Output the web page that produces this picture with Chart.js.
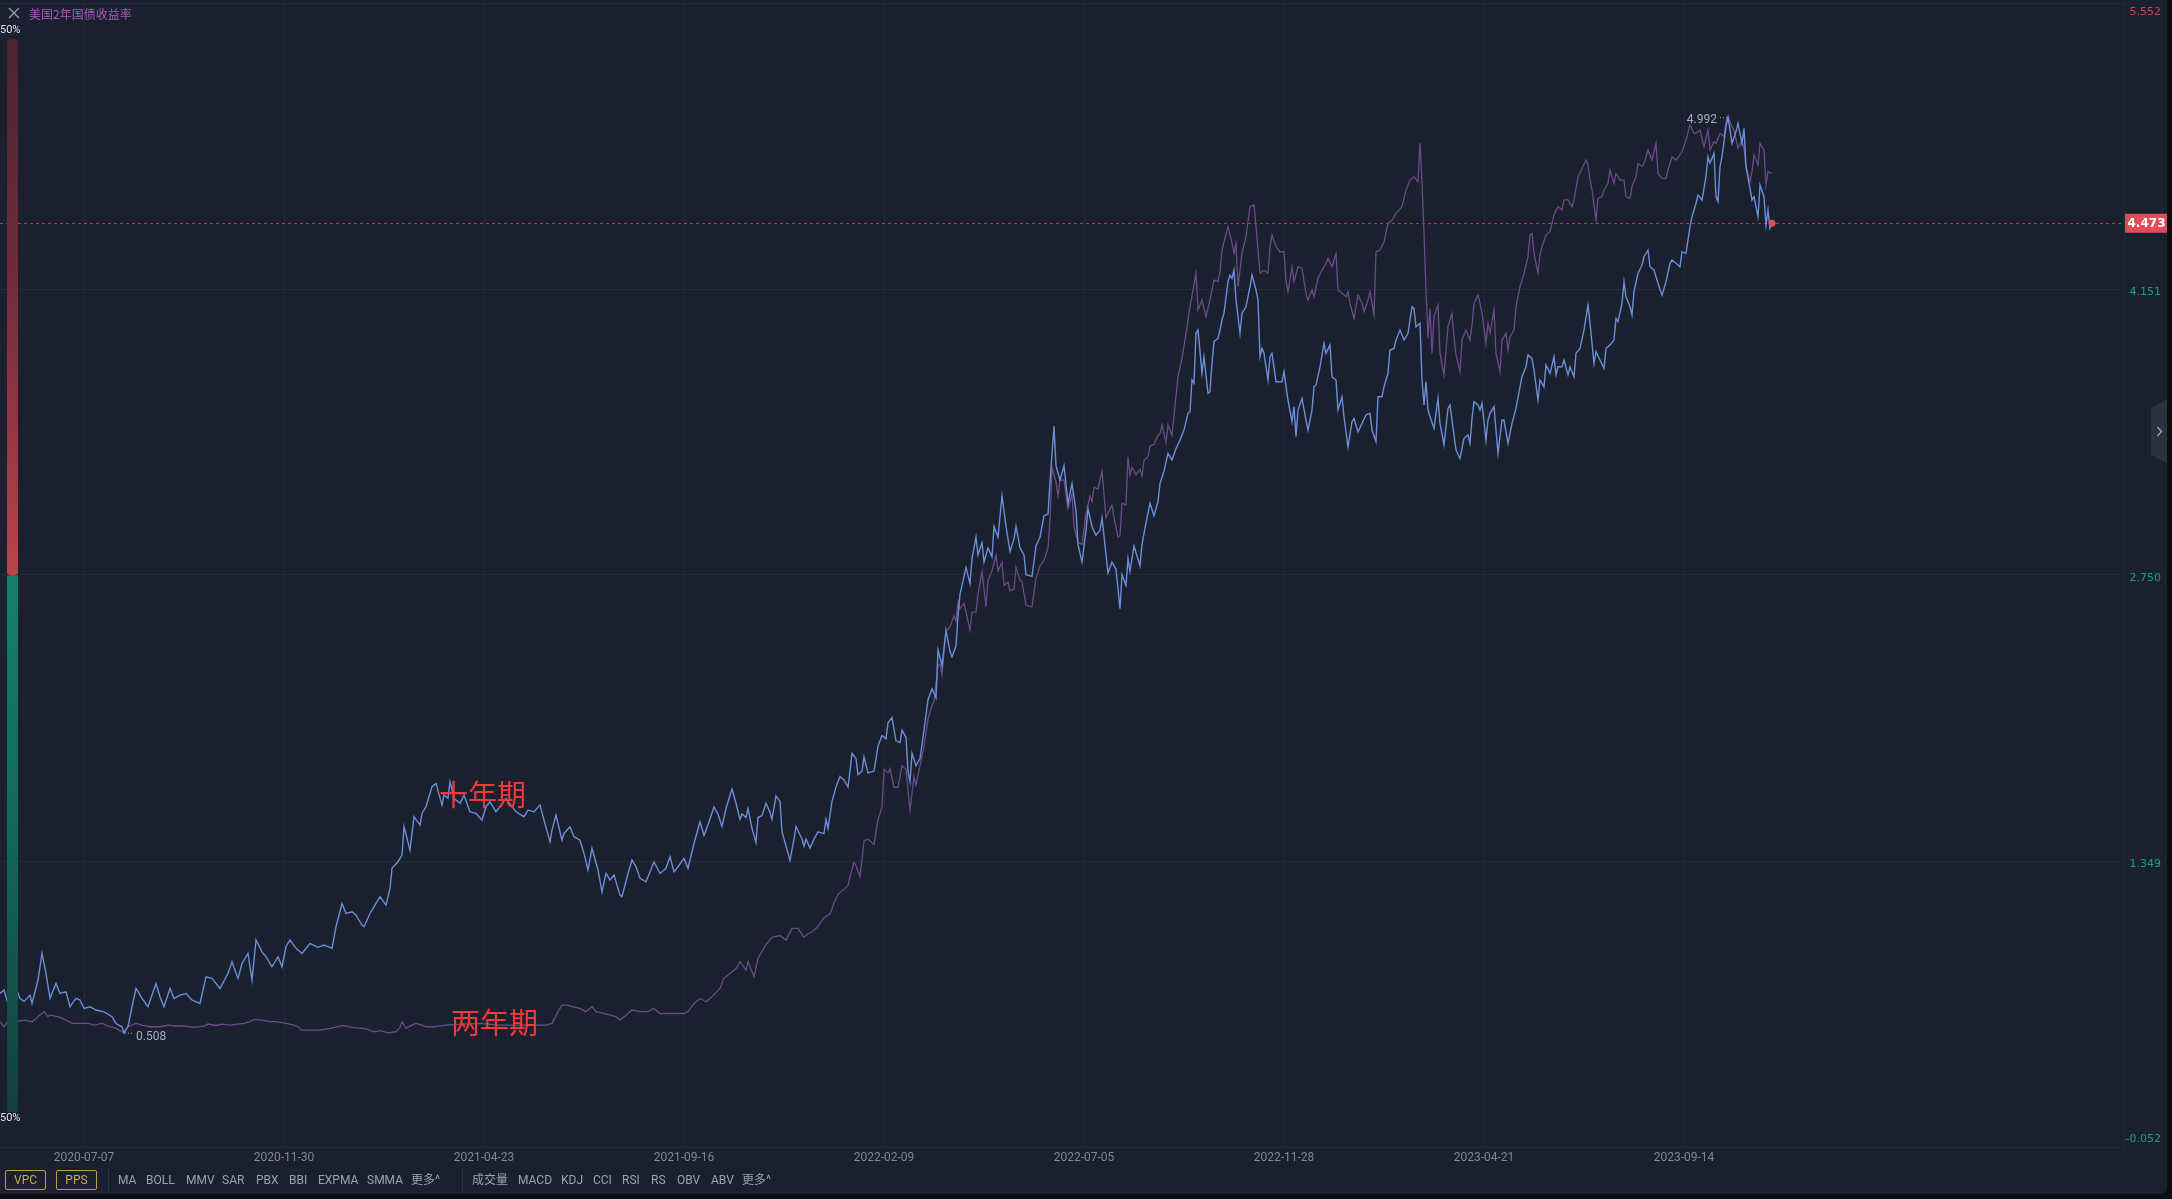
<!DOCTYPE html>
<html lang="zh-CN">
<head>
<meta charset="utf-8">
<title>美国2年国债收益率</title>
<script src="https://cdn.jsdelivr.net/npm/chart.js@4.4.1/dist/chart.umd.min.js"></script>
<style>
    html, body { margin: 0; padding: 0; width: 2172px; height: 1199px; overflow: hidden; background: #0b0d11; }
    #panel { position: absolute; left: 0; top: 0; width: 2167px; height: 1194px; background: #1a202d; border-radius: 0 0 6px 0; overflow: hidden; font-family: Roboto, "Noto Sans CJK SC", sans-serif; }
    #chart { position: absolute; left: 0; top: 0; }
    #title { position: absolute; left: 8px; top: 4px; height: 18px; display: flex; align-items: center; font-family: "Noto Sans CJK SC", sans-serif; font-size: 12px; color: #a55cbc; }
    #title svg { margin-right: 9px; }
    #vpcWrap { position: absolute; left: 7px; top: 39px; width: 11px; height: 1073px; }
    .pct { position: absolute; left: 0; font-size: 11px; color: #dfe3ea; line-height: 12px; }
    #toolbar { position: absolute; left: 0; top: 1168px; width: 900px; height: 24px; font-size: 12px; color: #9aa2b1; }
    #toolbar span { position: absolute; top: 4px; line-height: 16px; white-space: nowrap; }
    #toolbar .box { top: 2px; height: 18px; line-height: 18px; border: 1px solid #c49a45; color: #d3a74b; border-radius: 2px; text-align: center; }
    #toolbar .sep { top: 0; width: 1px; height: 24px; background: #2c3442; }
    #tab { position: absolute; left: 2151px; top: 400px; width: 16px; height: 63px; background: #2a313f; clip-path: polygon(0 8px, 100% 0, 100% 100%, 0 calc(100% - 8px)); display: flex; align-items: center; justify-content: center; }
</style>
</head>
<body>
<div id="panel">
    <canvas id="chart" width="2167" height="1194"></canvas>
    <div id="title">
        <svg width="12" height="12" viewBox="0 0 12 12"><path d="M1 1 L11 11 M11 1 L1 11" stroke="#9aa2b0" stroke-width="1.3"/></svg>
        <span>美国2年国债收益率</span>
    </div>
    <div class="pct" style="top:24px">50%</div>
    <div id="vpcWrap"><canvas id="vpc" width="11" height="1073"></canvas></div>
    <div class="pct" style="top:1112px">50%</div>
    <div id="tab"><svg width="7" height="11" viewBox="0 0 7 11"><path d="M1.5 1 L5.5 5.5 L1.5 10" fill="none" stroke="#9aa2b1" stroke-width="1.4"/></svg></div>
    <div id="toolbar"></div>
</div>
<script>
// Indices des jours de cotation (axe x) et dates affichées
const tickDays = [42, 142, 242, 342, 442, 542, 642, 742, 842];
const tickDates = ['2020-07-07', '2020-11-30', '2021-04-23', '2021-09-16', '2022-02-09',
    '2022-07-05', '2022-11-28', '2023-04-21', '2023-09-14'];
const lastDay = 1062;

// Graduations de l'axe de droite
const yTickValues = [-0.052, 1.349, 2.750, 4.151, 5.552];

// Taux à 10 ans (十年期)
const tenYearDays = [
    0, 2, 4, 6, 8, 10, 12, 15, 16, 19,
    21, 23, 25, 28, 30, 33, 35, 38, 40, 42,
    45, 48, 52, 56, 58, 61, 62, 64, 66, 68,
    71, 74, 78, 80, 82, 85, 87, 90, 93, 96,
    100, 103, 106, 110, 114, 116, 119, 121, 124, 126,
    128, 131, 133, 136, 139, 141, 143, 145, 148, 151,
    155, 159, 162, 166, 168, 171, 173, 176, 178, 181,
    182, 185, 188, 190, 193, 195, 196, 199, 201, 202,
    205, 207, 210, 211, 213, 216, 218, 221, 222, 224,
    225, 227, 230, 232, 235, 238, 241, 243, 245, 248,
    250, 253, 256, 258, 262, 264, 267, 270, 272, 275,
    276, 278, 281, 282, 285, 287, 290, 292, 294, 296,
    299, 301, 303, 305, 307, 310, 311, 314, 316, 318,
    320, 323, 325, 327, 330, 333, 335, 337, 339, 342,
    344, 347, 350,
    352, 354, 357, 359, 361, 363, 366, 368, 370, 371,
    373, 374, 376, 378, 379, 381, 383, 385, 386, 388,
    390, 391, 393, 395, 397, 398, 401, 402, 403, 405,
    407, 409, 412, 413, 414, 416, 418, 420, 422, 424,
    425, 426, 428, 429, 431, 432, 434, 437, 439, 441,
    443, 444, 446, 448, 450, 451, 453, 454, 455, 456,
    458, 460, 462, 464, 466, 468, 469, 471, 473, 475,
    476, 478, 479, 480, 483, 485, 486, 488, 489, 491,
    492, 494, 496, 497, 499, 501, 503, 505, 507, 508,
    510, 512, 513, 516, 518, 520, 522, 524, 525, 527,
    528, 530, 532, 534, 536, 538, 539, 541, 543, 544,
    546, 548, 550, 551, 554, 556, 558, 560, 561, 563,
    564, 565, 567, 570, 571, 573, 575, 577, 579, 580,
    582,
    584, 586, 588, 590, 592, 594, 595, 596, 597, 598,
    599, 601, 602, 604, 605, 606, 607, 609, 610, 611,
    612, 614, 615, 616, 617, 618, 620, 621, 623, 625,
    626, 628, 629, 630, 631, 632, 634, 635, 636, 638,
    641, 642, 644, 646, 647, 648, 649, 651, 653, 654,
    656, 657, 658, 660, 662, 663, 665, 666, 668, 669,
    671, 672, 674, 676, 677, 679, 681, 683, 685, 686,
    688, 689, 691, 692, 694, 695, 697, 698, 700, 702,
    704, 706, 707, 708, 710, 711, 712, 713, 714, 715,
    717, 719, 720, 722, 724, 725, 726, 728, 730, 732,
    734, 735, 736, 737, 739, 740, 741, 743, 744, 745,
    747, 749, 751, 752, 754, 756, 758, 760, 761, 763,
    764, 766, 767, 769, 770, 772, 773, 775, 777, 778,
    779, 781, 782, 784, 785, 787, 788, 790, 792, 794,
    795, 797, 798, 800, 802, 803, 805, 807, 808, 809,
    811, 812, 813, 815, 816, 817, 819, 821, 822, 824,
    825, 827, 829, 831, 833, 835, 836, 838, 840, 841,
    843, 844, 845, 846, 848, 849, 851, 853, 854, 855,
    857, 858, 859, 860, 861, 863, 864, 865, 866, 868,
    869, 871, 872, 873, 875, 876, 877, 879, 880, 882,
    883, 884, 885, 886
];
const tenYearYields = [
    0.70, 0.717, 0.651, 0.635, 0.725, 0.676, 0.66, 0.692, 0.651, 0.766,
    0.896, 0.798, 0.676, 0.749, 0.70, 0.708, 0.635, 0.676, 0.668, 0.627,
    0.635, 0.619, 0.61, 0.586, 0.553, 0.537, 0.508, 0.537, 0.635, 0.725,
    0.676, 0.635, 0.749, 0.684, 0.635, 0.725, 0.676, 0.692, 0.70, 0.668,
    0.651, 0.782, 0.774, 0.725, 0.798, 0.855, 0.774, 0.847, 0.896, 0.766,
    0.962, 0.904, 0.88, 0.831, 0.88, 0.831, 0.929, 0.962, 0.921, 0.896,
    0.945, 0.926, 0.937, 0.921, 1.027, 1.141, 1.092, 1.10, 1.084, 1.035,
    1.027, 1.092, 1.141, 1.174, 1.133, 1.215, 1.313, 1.345, 1.378, 1.517,
    1.402, 1.566, 1.525, 1.582, 1.615, 1.713, 1.729, 1.623, 1.672, 1.656,
    1.737, 1.656, 1.631, 1.672, 1.59, 1.582, 1.549, 1.615, 1.639, 1.59,
    1.615, 1.656, 1.615, 1.59, 1.566, 1.598, 1.59, 1.623, 1.549, 1.443,
    1.50, 1.574, 1.451, 1.484, 1.517, 1.468, 1.451, 1.386, 1.305, 1.411,
    1.305, 1.198, 1.288, 1.256, 1.28, 1.182, 1.174, 1.288, 1.354, 1.321,
    1.264, 1.247, 1.296, 1.345, 1.288, 1.313, 1.37, 1.296, 1.321, 1.362,
    1.313, 1.435, 1.541,
    1.474, 1.527, 1.614, 1.579, 1.518, 1.606, 1.702, 1.632, 1.553, 1.579,
    1.562, 1.606, 1.509, 1.439, 1.562, 1.571, 1.632, 1.588, 1.553, 1.667,
    1.641, 1.492, 1.422, 1.352, 1.457, 1.518, 1.457, 1.422, 1.457, 1.413,
    1.457, 1.492, 1.483, 1.553, 1.509, 1.641, 1.711, 1.763, 1.746, 1.711,
    1.789, 1.877, 1.851, 1.772, 1.789, 1.859, 1.781, 1.789, 1.912, 1.964,
    1.947, 2.026, 2.052, 1.938, 1.929, 1.99, 1.955, 1.789, 1.737, 1.877,
    1.816, 1.851, 1.99, 2.139, 2.192, 2.148, 2.384, 2.306, 2.48, 2.375,
    2.349, 2.402, 2.55, 2.655, 2.787, 2.708, 2.83, 2.935, 2.848, 2.909,
    2.813, 2.883, 2.839, 2.988, 2.935, 3.137, 2.988, 2.865, 2.927, 2.988,
    2.883, 2.848, 2.752, 2.743, 2.892, 2.935, 3.04, 3.049, 3.206, 3.478,
    3.285, 3.215, 3.285, 3.101, 3.198, 3.066, 2.90, 2.813, 2.97, 3.075,
    2.988, 2.944, 2.97, 3.031, 2.76, 2.813, 2.778, 2.585, 2.752, 2.699,
    2.83, 2.769, 2.892, 2.795, 2.90, 3.005, 3.101, 3.04, 3.11, 3.198,
    3.259,
    3.346, 3.313, 3.37, 3.411, 3.46, 3.542, 3.55, 3.705, 3.689, 3.934,
    3.95, 3.738, 3.819, 3.64, 3.648, 3.787, 3.893, 3.909, 3.95, 3.999,
    4.032, 4.187, 4.219, 4.203, 4.244, 4.097, 3.934, 4.032, 4.064, 4.162,
    4.219, 4.146, 4.097, 3.819, 3.86, 3.836, 3.705, 3.819, 3.836, 3.697,
    3.697, 3.746, 3.607, 3.501, 3.574, 3.427, 3.558, 3.615, 3.509, 3.46,
    3.558, 3.672, 3.681, 3.77, 3.885, 3.836, 3.877, 3.721, 3.705, 3.558,
    3.623, 3.525, 3.378, 3.501, 3.517, 3.452, 3.493, 3.534, 3.542, 3.46,
    3.403, 3.623, 3.623, 3.672, 3.738, 3.852, 3.86, 3.901, 3.95, 3.901,
    3.934, 4.064, 4.056, 3.966, 3.983, 3.705, 3.583, 3.697, 3.558, 3.525,
    3.468, 3.615, 3.493, 3.387, 3.566, 3.583, 3.509, 3.362, 3.321, 3.419,
    3.436, 3.395, 3.517, 3.599, 3.583, 3.558, 3.591, 3.411, 3.509, 3.542,
    3.574, 3.346, 3.509, 3.509, 3.395, 3.493, 3.566, 3.672, 3.721, 3.77,
    3.828, 3.811, 3.754, 3.607, 3.705, 3.672, 3.779, 3.738, 3.819, 3.73,
    3.77, 3.77, 3.803, 3.73, 3.77, 3.721, 3.836, 3.86, 3.95, 4.073,
    3.983, 3.787, 3.844, 3.803, 3.762, 3.86, 3.877, 3.901, 4.007, 3.991,
    4.081, 4.187, 4.113, 4.064, 4.024, 4.138, 4.228, 4.268, 4.309, 4.342,
    4.26, 4.244, 4.179, 4.121, 4.187, 4.277, 4.293, 4.277, 4.26, 4.334,
    4.326, 4.391, 4.456, 4.505, 4.571, 4.611, 4.587, 4.701, 4.799, 4.767,
    4.816, 4.603, 4.579, 4.75, 4.799, 4.946, 4.992, 4.93, 4.864, 4.922,
    4.962, 4.864, 4.938, 4.75, 4.644, 4.587, 4.603, 4.505, 4.66, 4.603,
    4.464, 4.538, 4.448, 4.473
];

// Taux à 2 ans (两年期), superposé sur sa propre échelle
const twoYearDays = [
    0, 2, 5, 8, 12, 16, 18, 22, 24, 25,
    29, 33, 36, 40, 44, 47, 51, 55, 58, 62,
    64, 68, 71, 75, 80, 84, 87, 92, 97, 102,
    104, 108, 111, 115, 119, 122, 125, 127, 131, 135,
    138, 143, 147, 149, 151, 155, 160, 165, 170, 172,
    176, 181, 184, 187, 190, 194, 198, 200, 201, 203,
    206, 208, 211, 213, 217, 219, 223, 230, 240, 250,
    260, 269, 273, 276, 279, 281, 284, 286, 290, 293,
    296, 298, 302, 305, 308, 310, 314, 316, 320, 324,
    327, 330, 334, 338, 342, 344, 347, 350, 353, 356,
    360, 362, 365, 368, 370, 373, 374, 377, 379, 383,
    386, 390, 393, 396, 399, 402, 404, 406, 409, 412,
    415, 417, 419, 421, 424, 425, 427, 428, 430, 432,
    434, 437, 439, 441, 442, 444, 445, 447, 449, 451,
    453, 455, 457, 458, 460, 462, 464, 466, 467, 469,
    470, 471, 473, 475, 477, 478, 479, 480, 482, 485,
    486, 488, 489, 491, 493, 494, 496, 498, 499, 501,
    502, 504, 505, 507, 508, 510, 511, 513, 516, 518,
    520, 522, 524, 525, 526, 528, 529, 530, 532, 534,
    536, 537, 539, 541, 543, 545, 546, 547, 549, 550,
    551, 553, 556, 557, 559, 560, 561, 563, 564, 565,
    566, 568, 570, 571, 572, 574, 575, 577, 579, 580,
    581, 583, 584, 586, 587, 589, 591, 593, 595, 598,
    599, 601, 603, 605, 607, 609, 610, 611, 614, 616,
    617, 618, 619, 621, 623, 625, 627, 628, 630, 632,
    634, 635, 636, 638, 640, 642, 643, 644, 646, 647,
    649, 651, 653, 654, 656, 657, 659, 661, 663, 664,
    666, 668, 669, 671, 673, 674, 675, 677, 678, 679,
    681, 682, 684, 685, 687, 688, 690, 692, 694, 696,
    698, 701, 703, 705, 707, 709, 710, 711, 712, 713,
    714, 715, 716, 717, 719, 720, 722, 724, 726, 727,
    728, 730, 731, 733, 735, 736, 737, 739, 740, 741,
    743, 744, 745, 747, 748, 750, 751, 753, 754, 755,
    757, 758, 760, 761, 762, 764, 765, 766, 767, 769,
    770, 771, 773, 775, 777, 779, 781, 782, 784, 785,
    786, 787, 789, 791, 793, 794, 795, 796, 798, 799,
    801, 802, 804, 805, 807, 808, 810, 812, 813, 815,
    816, 818, 819, 821, 822, 824, 826, 828, 829, 831,
    833, 834, 836, 838, 840, 841, 843, 845, 847, 848,
    850, 852, 854, 855, 857, 858, 860, 862, 863, 864,
    866, 867, 869, 871, 872, 873, 875, 876, 877, 879,
    880, 882, 883, 884, 886
];
const twoYearYields = [
    0.169, 0.141, 0.187, 0.169, 0.178, 0.169, 0.187, 0.225, 0.197, 0.206,
    0.197, 0.178, 0.16, 0.16, 0.16, 0.15, 0.16, 0.141, 0.132, 0.107,
    0.141, 0.16, 0.15, 0.141, 0.141, 0.15, 0.145, 0.145, 0.137, 0.145,
    0.156, 0.148, 0.156, 0.15, 0.156, 0.16, 0.169, 0.182, 0.178, 0.169,
    0.169, 0.16, 0.15, 0.141, 0.122, 0.122, 0.122, 0.132, 0.145, 0.147,
    0.137, 0.132, 0.126, 0.113, 0.119, 0.107, 0.113, 0.137, 0.169, 0.132,
    0.15, 0.16, 0.15, 0.141, 0.141, 0.145, 0.15, 0.155, 0.16, 0.15,
    0.15, 0.15, 0.15, 0.16, 0.225, 0.262, 0.262, 0.253, 0.243, 0.225,
    0.253, 0.225, 0.215, 0.206, 0.197, 0.178, 0.215, 0.234, 0.225, 0.225,
    0.243, 0.215, 0.215, 0.215, 0.215, 0.225, 0.271, 0.299, 0.28, 0.308,
    0.355, 0.411, 0.438, 0.466, 0.504, 0.457, 0.504, 0.42, 0.522, 0.60,
    0.64, 0.65, 0.624, 0.69, 0.69, 0.64, 0.66, 0.67, 0.70, 0.75,
    0.77, 0.83, 0.879, 0.899, 0.929, 0.979, 1.059, 1.039, 0.979, 1.178,
    1.188, 1.158, 1.298, 1.368, 1.577, 1.557, 1.581, 1.477, 1.477, 1.597,
    1.577, 1.348, 1.537, 1.487, 1.597, 1.706, 1.856, 1.936, 1.956, 2.155,
    2.165, 2.105, 2.344, 2.374, 2.434, 2.404, 2.514, 2.474, 2.504, 2.354,
    2.454, 2.454, 2.553, 2.683, 2.484, 2.633, 2.683, 2.773, 2.683, 2.733,
    2.603, 2.623, 2.573, 2.583, 2.703, 2.633, 2.623, 2.494, 2.484, 2.643,
    2.713, 2.743, 2.813, 2.962, 3.261, 3.181, 3.102, 3.191, 3.191, 3.032,
    3.112, 2.932, 2.842, 2.832, 3.002, 3.102, 3.072, 3.151, 3.141, 3.191,
    3.241, 2.982, 3.052, 2.982, 2.872, 2.882, 3.062, 3.052, 3.321, 3.221,
    3.261, 3.221, 3.251, 3.211, 3.301, 3.321, 3.381, 3.391, 3.44, 3.45,
    3.50, 3.401, 3.50, 3.44, 3.55, 3.768, 3.87, 4.01, 4.159, 4.345,
    4.14, 4.196, 4.103, 4.196, 4.307, 4.298, 4.354, 4.475, 4.605, 4.512,
    4.456, 4.512, 4.27, 4.456, 4.549, 4.717, 4.726, 4.605, 4.345, 4.363,
    4.345, 4.493, 4.558, 4.493, 4.465, 4.465, 4.307, 4.242, 4.382, 4.298,
    4.382, 4.372, 4.233, 4.196, 4.252, 4.214, 4.317, 4.363, 4.40, 4.428,
    4.382, 4.456, 4.252, 4.233, 4.214, 4.242, 4.177, 4.093, 4.159, 4.224,
    4.177, 4.131, 4.196, 4.242, 4.112, 4.465, 4.475, 4.521, 4.623, 4.642,
    4.679, 4.717, 4.81, 4.865, 4.884, 4.856, 5.07, 4.847, 4.568, 4.252,
    3.982, 4.149, 3.898, 4.103, 4.168, 3.898, 3.777, 4.047, 4.121, 3.991,
    3.889, 3.796, 3.972, 4.028, 3.972, 4.056, 4.177, 4.224, 4.177, 4.121,
    3.954, 4.065, 4.01, 4.14, 3.898, 3.796, 3.972, 4.01, 3.917, 3.991,
    4.028, 4.159, 4.27, 4.307, 4.345, 4.437, 4.558, 4.568, 4.456, 4.345,
    4.447, 4.493, 4.558, 4.577, 4.67, 4.717, 4.698, 4.754, 4.754, 4.735,
    4.717, 4.754, 4.884, 4.93, 4.977, 4.949, 4.865, 4.81, 4.642, 4.763,
    4.772, 4.81, 4.847, 4.921, 4.847, 4.902, 4.865, 4.865, 4.772, 4.763,
    4.828, 4.884, 4.958, 4.94, 4.958, 5.033, 4.977, 5.07, 4.902, 4.874,
    4.874, 4.921, 4.995, 4.977, 5.005, 5.023, 5.088, 5.172, 5.126, 5.126,
    5.144, 5.051, 5.144, 5.033, 5.079, 5.07, 5.126, 5.107, 5.191, 5.219,
    5.163, 5.144, 5.042, 5.088, 5.042, 4.94, 4.856, 4.912, 5.005, 4.949,
    5.07, 5.033, 4.837, 4.912, 4.902
];
// Échelle cachée du taux à 2 ans
const twoYearScale = [-0.53, 5.853];

// Textes ajoutés sur le graphique
const noteLabels = ['十年期', '两年期'];
const noteDays = [219.5, 225.5];
const noteValues = [1.672, 0.161];
const noteAxes = ['y', 'y2'];

// Barre VPC (haussier en bas, baissier en haut, en %)
const vpcLabels = ['多', '空'];
const vpcValues = [50, 50];

// Boutons de la barre d'outils
const toolItems = [
    ['VPC', 5, 'box', 41], ['PPS', 56, 'box', 41], ['', 108, 'sep'],
    ['MA', 118], ['BOLL', 146], ['MMV', 186], ['SAR', 222], ['PBX', 256], ['BBI', 289],
    ['EXPMA', 318], ['SMMA', 367], ['更多^', 411], ['', 462, 'sep'],
    ['成交量', 472], ['MACD', 518], ['KDJ', 561], ['CCI', 593], ['RSI', 622], ['RS', 651],
    ['OBV', 677], ['ABV', 711], ['更多^', 742]
];

const RED = '#e04b57';
const TEAL = '#16a187';
const GRID = '#232b39';

// Fonction pour remplir la barre d'outils
function buildToolbar() {
    const bar = document.getElementById('toolbar');
    toolItems.forEach(item => {
        const span = document.createElement('span');
        span.style.left = item[1] + 'px';
        if (item[2] === 'box') {
            span.className = 'box';
            span.style.width = (item[3] - 2) + 'px';
        } else if (item[2] === 'sep') {
            span.className = 'sep';
        }
        span.textContent = item[0];
        bar.appendChild(span);
    });
}

// Fonction pour construire les points {x, y} d'une série
function toPoints(days, values) {
    return days.map((d, i) => ({ x: d, y: values[i] }));
}

// Plugin pour la ligne du dernier prix, les extrêmes et les étiquettes
const overlayPlugin = {
    id: 'overlay',
    beforeDatasetsDraw(chart) {
        const { ctx, chartArea, scales } = chart;
        const last = tenYearYields[tenYearYields.length - 1];
        const y = Math.round(scales.y.getPixelForValue(last)) + 0.5;
        ctx.save();
        ctx.strokeStyle = 'rgba(200, 72, 84, 0.8)';
        ctx.lineWidth = 1;
        ctx.setLineDash([3, 3]);
        ctx.beginPath();
        ctx.moveTo(chartArea.left, y);
        ctx.lineTo(chartArea.right, y);
        ctx.stroke();
        ctx.restore();
    },
    afterDatasetsDraw(chart) {
        const { ctx, scales } = chart;
        ctx.save();

        // Point rouge sur la dernière valeur
        const n = tenYearYields.length - 1;
        ctx.fillStyle = RED;
        ctx.beginPath();
        ctx.arc(scales.x.getPixelForValue(tenYearDays[n]), scales.y.getPixelForValue(tenYearYields[n]), 3.5, 0, Math.PI * 2);
        ctx.fill();

        // Plus haut et plus bas
        const maxV = Math.max(...tenYearYields);
        const minV = Math.min(...tenYearYields);
        const maxX = scales.x.getPixelForValue(tenYearDays[tenYearYields.indexOf(maxV)]);
        const maxY = scales.y.getPixelForValue(maxV);
        const minX = scales.x.getPixelForValue(tenYearDays[tenYearYields.indexOf(minV)]);
        const minY = scales.y.getPixelForValue(minV);
        ctx.font = '12px Roboto, sans-serif';
        ctx.fillStyle = '#a6adb9';
        ctx.textBaseline = 'middle';
        ctx.strokeStyle = '#a6adb9';
        ctx.lineWidth = 1;
        ctx.setLineDash([1, 2]);
        ctx.beginPath();
        ctx.moveTo(maxX - 1, maxY + 0.5);
        ctx.lineTo(maxX - 10, maxY + 0.5);
        ctx.moveTo(minX + 1, minY + 0.5);
        ctx.lineTo(minX + 10, minY + 0.5);
        ctx.stroke();
        ctx.setLineDash([]);
        ctx.textAlign = 'right';
        ctx.fillText(maxV.toFixed(3), maxX - 11, maxY + 3);
        ctx.textAlign = 'left';
        ctx.fillText(minV.toFixed(3), minX + 12, minY + 4);

        // Annotations en rouge
        ctx.font = '29px "Noto Sans CJK SC", sans-serif';
        ctx.fillStyle = '#f03a3a';
        ctx.textAlign = 'left';
        noteLabels.forEach((label, i) => {
            const px = scales.x.getPixelForValue(noteDays[i]);
            const py = scales[noteAxes[i]].getPixelForValue(noteValues[i]);
            ctx.fillText(label, px, py);
        });
        ctx.restore();
    },
    afterDraw(chart) {
        const { ctx, chartArea, scales } = chart;
        const last = tenYearYields[tenYearYields.length - 1];
        ctx.save();

        // Étiquettes de l'axe de droite
        ctx.font = '11px "DejaVu Sans", sans-serif';
        ctx.textAlign = 'right';
        ctx.textBaseline = 'middle';
        yTickValues.forEach(v => {
            let py = scales.y.getPixelForValue(v) + 3;
            py = Math.max(chartArea.top + 9, Math.min(chartArea.bottom - 8, py));
            ctx.fillStyle = v > last ? '#c9464f' : TEAL;
            ctx.fillText(v.toFixed(3), 2161, py);
        });

        // Boîte du dernier prix
        const ly = scales.y.getPixelForValue(last);
        ctx.fillStyle = RED;
        ctx.fillRect(chartArea.right + 1, ly - 9.5, 2167 - chartArea.right - 1, 19);
        ctx.fillStyle = '#ffffff';
        ctx.font = 'bold 12px "DejaVu Sans", sans-serif';
        ctx.textAlign = 'center';
        ctx.fillText(last.toFixed(3), (chartArea.right + 2167) / 2 + 1, ly + 0.5);
        ctx.restore();
    }
};

// Fonction pour créer le graphique principal
function drawMainChart() {
    const ctx = document.getElementById('chart').getContext('2d');
    new Chart(ctx, {
        type: 'line',
        data: {
            datasets: [{
                label: '十年期',
                data: toPoints(tenYearDays, tenYearYields),
                borderColor: '#6b8ed8',
                borderWidth: 1.4,
                pointRadius: 0,
                tension: 0,
                yAxisID: 'y'
            }, {
                label: '两年期',
                data: toPoints(twoYearDays, twoYearYields),
                borderColor: '#6c4a8b',
                borderWidth: 1.3,
                pointRadius: 0,
                tension: 0,
                yAxisID: 'y2'
            }]
        },
        options: {
            responsive: false,
            animation: false,
            events: [],
            layout: { padding: { top: 3, left: 0, right: 0, bottom: 0 } },
            plugins: { legend: { display: false }, tooltip: { enabled: false } },
            scales: {
                x: {
                    type: 'linear',
                    min: 0,
                    max: lastDay,
                    afterBuildTicks: scale => { scale.ticks = tickDays.map(v => ({ value: v })); },
                    afterFit: scale => { scale.height = 47; },
                    grid: { color: GRID, drawTicks: false },
                    border: { color: GRID },
                    ticks: {
                        autoSkip: false,
                        maxRotation: 0,
                        padding: 4,
                        color: '#7e8797',
                        font: { family: 'Roboto', size: 12 },
                        callback: (value, index) => tickDates[index]
                    }
                },
                y: {
                    position: 'right',
                    min: yTickValues[0],
                    max: yTickValues[yTickValues.length - 1],
                    afterBuildTicks: scale => { scale.ticks = yTickValues.map(v => ({ value: v })); },
                    afterFit: scale => { scale.width = 43; },
                    grid: { color: GRID, drawTicks: false },
                    border: { color: GRID },
                    ticks: { display: false }
                },
                y2: {
                    display: false,
                    min: twoYearScale[0],
                    max: twoYearScale[1]
                }
            }
        },
        plugins: [overlayPlugin]
    });
}

// Fonction pour créer la barre VPC à gauche
function drawVpcBar() {
    const ctx = document.getElementById('vpc').getContext('2d');
    // Dégradé vertical sur toute la hauteur de la barre
    const fill = stops => context => {
        const area = context.chart.chartArea;
        if (!area) return stops[0][1];
        const g = context.chart.ctx.createLinearGradient(0, area.top, 0, area.bottom);
        stops.forEach(s => g.addColorStop(s[0], s[1]));
        return g;
    };
    new Chart(ctx, {
        type: 'bar',
        data: {
            labels: [''],
            datasets: [{
                label: vpcLabels[0],
                data: [vpcValues[0]],
                backgroundColor: fill([[0, '#16806c'], [0.5, '#16806c'], [0.75, '#126659'], [1, '#143f3c']])
            }, {
                label: vpcLabels[1],
                data: [vpcValues[1]],
                backgroundColor: fill([[0, '#4a2432'], [0.22, '#6e2c3b'], [0.5, '#bb424d'], [1, '#bb424d']])
            }]
        },
        options: {
            responsive: false,
            animation: false,
            events: [],
            layout: { padding: 0 },
            datasets: { bar: { barPercentage: 1, categoryPercentage: 1, borderRadius: 5, borderSkipped: false } },
            plugins: { legend: { display: false }, tooltip: { enabled: false } },
            scales: {
                x: { display: false, stacked: true },
                y: { display: false, stacked: true, min: 0, max: 100 }
            }
        }
    });
}

buildToolbar();
drawMainChart();
drawVpcBar();
</script>
</body>
</html>
